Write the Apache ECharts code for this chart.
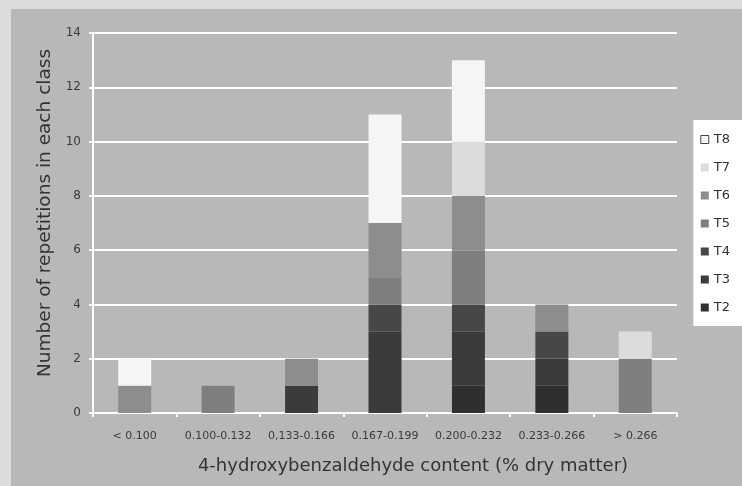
<!DOCTYPE html>
<html>
<head>
<meta charset="utf-8">
<script src="https://cdn.jsdelivr.net/npm/echarts@6/dist/echarts.min.js"></script>
<style>
  html, body { margin: 0; padding: 0; background: #dcdcdc; }
  #chart { position: absolute; left: 11px; top: 9px; width: 731px; height: 477px; }
</style>
</head>
<body>
<div id="chart"></div>
<script>
// classes of 4-hydroxybenzaldehyde content
const categories = ['< 0.100', '0.100-0.132', '0,133-0.166', '0.167-0.199', '0.200-0.232', '0.233-0.266', '> 0.266']
const yTicks = [0, 2, 4, 6, 8, 10, 12, 14]

// repetitions per class, stacked bottom (T2) to top (T8)
const t2 = [0, 0, 0, 0, 1, 1, 0]
const t3 = [0, 0, 1, 3, 2, 1, 0]
const t4 = [0, 0, 0, 1, 1, 1, 0]
const t5 = [0, 1, 0, 1, 2, 0, 2]
const t6 = [1, 0, 1, 2, 2, 1, 0]
const t7 = [0, 0, 0, 0, 2, 0, 1]
const t8 = [1, 0, 0, 4, 3, 0, 0]

const seriesList = [
  { name: 'T2', data: t2, color: '#2f2f2f' },
  { name: 'T3', data: t3, color: '#3b3b3b' },
  { name: 'T4', data: t4, color: '#474747' },
  { name: 'T5', data: t5, color: '#7f7f7f' },
  { name: 'T6', data: t6, color: '#8d8d8d' },
  { name: 'T7', data: t7, color: '#dcdcdc' },
  { name: 'T8', data: t8, color: '#f5f5f5' }
]

const chart = echarts.init(document.getElementById('chart'))

chart.setOption({
  backgroundColor: '#b8b8b8',
  textStyle: { fontFamily: 'DejaVu Sans, sans-serif' },
  legend: {
    orient: 'vertical',
    right: 0,
    top: 111,
    backgroundColor: '#ffffff',
    padding: [13, 12, 12, 7],
    icon: 'rect',
    itemWidth: 8,
    itemHeight: 8,
    itemGap: 15,
    textStyle: { color: '#333', fontSize: 13 },
    data: [
      { name: 'T8', itemStyle: { borderColor: '#444', borderWidth: 1 } },
      'T7', 'T6', 'T5', 'T4', 'T3', 'T2'
    ]
  },
  grid: {
    left: 82,
    right: 65,
    top: 24,
    bottom: 73
  },
  xAxis: {
    type: 'category',
    data: categories,
    name: '4-hydroxybenzaldehyde content (% dry matter)',
    nameLocation: 'middle',
    nameGap: 44,
    nameTextStyle: { color: '#333', fontSize: 18, padding: [0, 0, 0, 56] },
    axisLine: { lineStyle: { color: '#ffffff', width: 2 } },
    axisTick: { show: true, length: 4, lineStyle: { color: '#ffffff', width: 2 } },
    axisLabel: { color: '#3a3a3a', fontSize: 11, margin: 18, interval: 0 }
  },
  yAxis: {
    type: 'value',
    min: yTicks[0],
    max: yTicks[yTicks.length - 1],
    interval: 2,
    name: 'Number of repetitions in each class',
    nameLocation: 'middle',
    nameGap: 37,
    nameTextStyle: { color: '#333', fontSize: 18.5, padding: [0, 0, 0, 20] },
    axisLine: { show: true, lineStyle: { color: '#ffffff', width: 2 } },
    axisTick: { show: true, length: 4, lineStyle: { color: '#ffffff', width: 2 } },
    axisLabel: { color: '#3a3a3a', fontSize: 12, margin: 12 },
    splitLine: { lineStyle: { color: '#ffffff', width: 2 } }
  },
  series: seriesList.map(s => ({
    name: s.name,
    type: 'bar',
    stack: 'total',
    barWidth: 33,
    data: s.data,
    itemStyle: { color: s.color }
  }))
})
</script>
</body>
</html>
